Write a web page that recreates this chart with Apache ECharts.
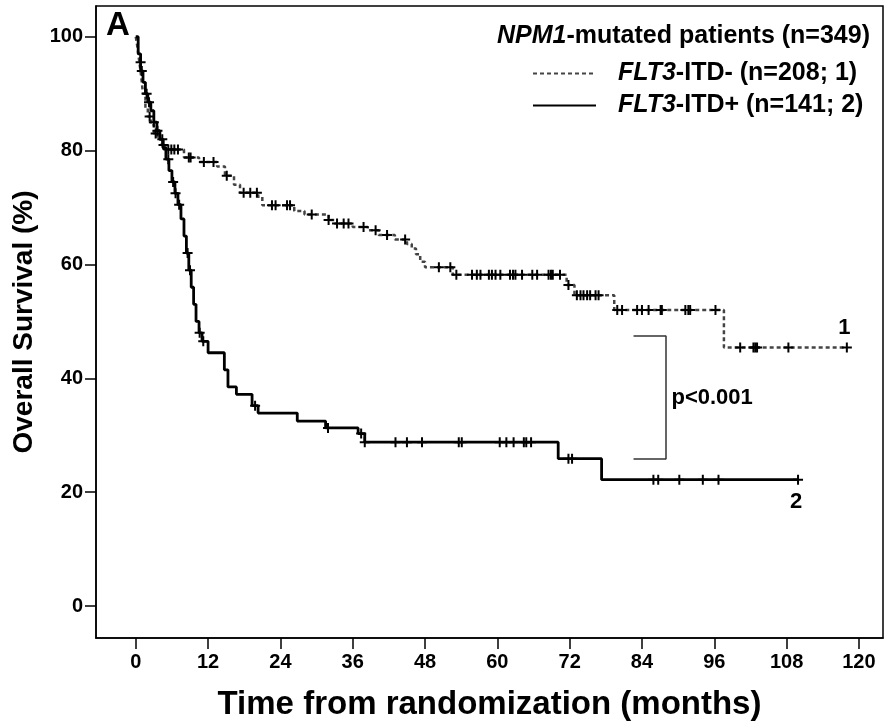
<!DOCTYPE html>
<html>
<head>
<meta charset="utf-8">
<script src="https://cdn.jsdelivr.net/npm/echarts@6/dist/echarts.min.js"></script>
<style>
  html, body { margin: 0; padding: 0; background: #fff; }
  #chart { width: 886px; height: 723px; }
</style>
</head>
<body>
<div id="chart"></div>
<script>
var xTicks = [0, 12, 24, 36, 48, 60, 72, 84, 96, 108, 120];
var yTicks = [0, 20, 40, 60, 80, 100];

// FLT3-ITD- (curve 1), Kaplan-Meier steps
var negTimes = [0, 0.3, 0.6, 0.9, 1.2, 1.6, 2.0, 2.5, 3.0, 3.6, 4.3, 5.0, 8.0, 10.5, 13.5, 14.8, 16.3, 17.3, 20.3, 21.0,
  26.3, 28.0, 32.0, 33.0, 36.0, 38.5, 40.3, 43.0, 45.0, 45.8, 46.5, 47.2, 48.0, 52.6, 71.5, 72.8, 79.4, 97.6, 118];
var negSurv = [100, 98, 95.5, 93, 90, 87.5, 86, 84.5, 83, 82, 81, 80.2, 78.8, 78, 77.2, 75.6, 74, 72.6, 71.9, 70.4,
  69.4, 68.8, 67.8, 67.2, 66.6, 66, 65.2, 64.4, 63.6, 62.8, 61.8, 60.5, 59.5, 58.2, 56.4, 54.6, 52, 45.4, 45.4];
var negCensored = [0.8, 2.3, 3.3, 4.6, 5.4, 5.9, 6.4, 7.0, 8.8, 9.1, 11.3, 12.9, 15.1, 17.9, 19.0, 20.1, 22.6, 23.2,
  25.1, 25.6, 29.2, 32.0, 33.4, 34.5, 35.3, 37.8, 39.8, 41.7, 44.7, 50.3, 52.2, 53.2, 55.8, 56.6, 57.2, 58.6, 59.1,
  59.7, 60.5, 62.1, 62.6, 63.0, 64.1, 65.8, 66.6, 68.5, 68.9, 69.2, 70.4, 71.8, 73.2, 73.8, 74.3, 74.9, 75.4, 76.3,
  76.8, 79.9, 80.7, 83.2, 84.0, 85.1, 87.1, 87.3, 91.2, 91.7, 92.0, 96.2, 100.3, 102.5, 102.8, 103.1, 108.3, 118.0];

// FLT3-ITD+ (curve 2)
var posTimes = [0, 0.4, 0.8, 1.2, 1.6, 2.0, 2.5, 3.0, 3.5, 4.0, 4.5, 5.0, 5.5, 6.0, 6.5, 7.0, 7.5, 8.0, 8.4, 8.8,
  9.2, 9.6, 10.0, 10.5, 11.0, 12.0, 14.7, 15.3, 16.7, 19.3, 20.3, 26.8, 31.5, 36.9, 38.0, 70.1, 77.3, 110];
var posSurv = [100, 97, 94, 92, 90, 88.5, 87, 85, 83.5, 82, 80.5, 78.5, 76.5, 74.5, 72.5, 70.5, 68, 65, 62, 59,
  56, 53, 50, 48, 46.5, 44.5, 41.5, 38.5, 37.2, 35.2, 33.9, 32.5, 31.3, 30.3, 28.8, 25.9, 22.2, 22.2];
var posCensored = [1.0, 1.8, 2.2, 3.0, 3.6, 4.4, 5.4, 6.2, 6.6, 7.2, 8.6, 9.0, 10.6, 11.2, 19.8, 31.9, 37.4, 38.0,
  43.1, 45.0, 47.5, 53.6, 54.1, 60.4, 61.5, 62.7, 64.4, 64.8, 65.6, 71.8, 72.4, 85.9, 86.7, 90.2, 94.1, 96.7, 109.9];

var bracketX = [82.6, 88.0];
var bracketY = [47.5, 25.8];
var pLabelAt = [88.9, 36.5];
var label1At = [117.6, 48.8];
var label2At = [109.6, 18.3];

var FONT = 'Liberation Sans, Arial, sans-serif';
var PLUS = 'path://M4,0H6V4H10V6H6V10H4V6H0V4H4Z';

function survAt(times, surv, t) {
  var s = surv[0];
  for (var i = 0; i < times.length; i++) {
    if (times[i] <= t) s = surv[i];
  }
  return s;
}

function steps(times, surv) {
  return times.map(function (t, i) { return [t, surv[i]]; });
}

function censorPoints(times, surv, cens) {
  return cens.map(function (t) { return [t, survAt(times, surv, t)]; });
}

function textMark(coord, text, align) {
  return {
    coord: coord,
    symbol: 'circle',
    symbolSize: 0,
    itemStyle: { color: 'transparent' },
    label: {
      show: true,
      position: 'inside',
      formatter: text,
      align: align || 'center',
      color: '#000',
      fontFamily: FONT,
      fontWeight: 'bold',
      fontSize: 22
    }
  };
}

var chart = echarts.init(document.getElementById('chart'));

var option = {
  animation: false,
  backgroundColor: '#fff',
  title: [
    {
      text: 'A',
      left: 106,
      top: 9,
      textStyle: { fontFamily: FONT, fontWeight: 'bold', fontSize: 33, color: '#000' },
      padding: 0
    },
    {
      text: '{i|NPM1}{b|-mutated patients (n=349)}',
      right: 16,
      top: 24,
      padding: 0,
      textStyle: {
        rich: {
          i: { fontFamily: FONT, fontWeight: 'bold', fontStyle: 'italic', fontSize: 25, lineHeight: 25, color: '#000' },
          b: { fontFamily: FONT, fontWeight: 'bold', fontSize: 25, lineHeight: 25, color: '#000' }
        }
      }
    }
  ],
  legend: {
    orient: 'vertical',
    left: 527,
    top: 56,
    itemWidth: 63,
    itemHeight: 12,
    itemGap: 7,
    selectedMode: false,
    itemStyle: { color: 'transparent', borderColor: 'transparent', borderWidth: 0 },
    data: ['FLT3-ITD- (n=208; 1)', 'FLT3-ITD+ (n=141; 2)'],
    formatter: function (name) {
      return '{g|}{i|FLT3}{b|' + name.slice(4) + '}';
    },
    textStyle: {
      rich: {
        g: { width: 17 },
        i: { fontFamily: FONT, fontWeight: 'bold', fontStyle: 'italic', fontSize: 25, lineHeight: 25, color: '#000' },
        b: { fontFamily: FONT, fontWeight: 'bold', fontSize: 25, lineHeight: 25, color: '#000' }
      }
    }
  },
  grid: {
    left: 96,
    right: 3,
    top: 6,
    bottom: 85,
    outerBoundsMode: 'none',
    show: true,
    borderColor: '#000',
    borderWidth: 1.5,
    backgroundColor: 'transparent'
  },
  xAxis: {
    type: 'value',
    min: -6.6,
    max: 124,
    name: 'Time from randomization (months)',
    nameLocation: 'middle',
    nameGap: 50,
    nameTextStyle: { fontFamily: FONT, fontWeight: 'bold', fontSize: 33, color: '#000' },
    axisLine: { onZero: false, lineStyle: { color: '#000', width: 1.5 } },
    axisTick: { show: true, length: 11, customValues: xTicks, lineStyle: { color: '#000', width: 1.5 } },
    axisLabel: {
      customValues: xTicks,
      margin: 14,
      fontFamily: FONT,
      fontWeight: 'bold',
      fontSize: 20,
      color: '#000'
    },
    splitLine: { show: false }
  },
  yAxis: {
    type: 'value',
    min: -5.6,
    max: 105.4,
    name: 'Overall Survival (%)',
    nameLocation: 'middle',
    nameGap: 58,
    nameTextStyle: { fontFamily: FONT, fontWeight: 'bold', fontSize: 28, color: '#000' },
    axisLine: { onZero: false, lineStyle: { color: '#000', width: 1.5 } },
    axisTick: { show: true, length: 11, customValues: yTicks, lineStyle: { color: '#000', width: 1.5 } },
    axisLabel: {
      customValues: yTicks,
      margin: 13,
      fontFamily: FONT,
      fontWeight: 'bold',
      fontSize: 20,
      color: '#000'
    },
    splitLine: { show: false }
  },
  series: [
    {
      name: 'FLT3-ITD- (n=208; 1)',
      type: 'line',
      step: 'end',
      symbol: 'none',
      data: steps(negTimes, negSurv),
      lineStyle: { color: '#444', width: 2.5, type: [4, 3] },
      itemStyle: { color: '#444' },
      markPoint: { silent: true, data: [textMark(label1At, '1')] },
      z: 3
    },
    {
      name: 'FLT3-ITD+ (n=141; 2)',
      type: 'line',
      step: 'end',
      symbol: 'none',
      data: steps(posTimes, posSurv),
      lineStyle: { color: '#000', width: 2.8 },
      itemStyle: { color: '#000' },
      markPoint: {
        silent: true,
        data: [textMark(label2At, '2'), textMark(pLabelAt, 'p<0.001', 'left')]
      },
      markLine: {
        silent: true,
        symbol: 'none',
        label: { show: false },
        lineStyle: { color: '#333', width: 1.5, type: 'solid' },
        data: [
          [{ coord: [bracketX[0], bracketY[0]] }, { coord: [bracketX[1], bracketY[0]] }],
          [{ coord: [bracketX[1], bracketY[0]] }, { coord: [bracketX[1], bracketY[1]] }],
          [{ coord: [bracketX[0], bracketY[1]] }, { coord: [bracketX[1], bracketY[1]] }]
        ]
      },
      z: 4
    },
    {
      name: 'censored-1',
      type: 'scatter',
      symbol: PLUS,
      symbolSize: 10,
      data: censorPoints(negTimes, negSurv, negCensored),
      itemStyle: { color: '#000', opacity: 1 },
      silent: true,
      z: 5
    },
    {
      name: 'censored-2',
      type: 'scatter',
      symbol: PLUS,
      symbolSize: 10,
      data: censorPoints(posTimes, posSurv, posCensored),
      itemStyle: { color: '#000', opacity: 1 },
      silent: true,
      z: 5
    }
  ]
};

chart.setOption(option);
</script>
</body>
</html>
